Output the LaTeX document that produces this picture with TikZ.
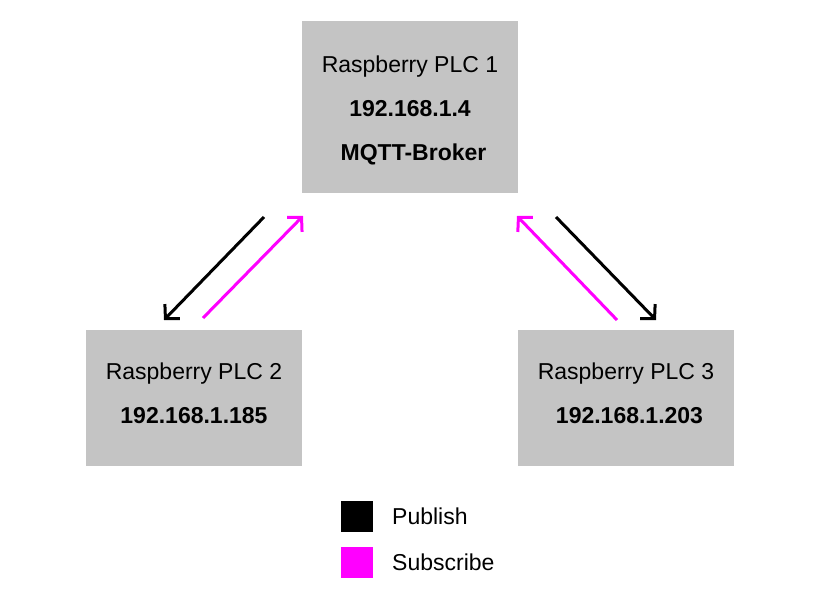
\documentclass[tikz,border=0pt]{standalone}
\usepackage{fontspec}
\setmainfont{Liberation Sans}
\usetikzlibrary{arrows.meta, positioning}
\definecolor{plcgray}{RGB}{196,196,196}
\definecolor{submagenta}{RGB}{255,0,255}

\tikzset{
  plcbox/.style={rectangle, fill=plcgray, minimum width=216pt, inner sep=0pt},
  plclabel/.style={align=center, inner sep=0pt, font=\fontsize{23}{44}\selectfont},
  pubarrow/.style={draw=black, line width=3pt, -{Straight Barb[length=10pt,width=21pt]}},
  subarrow/.style={pubarrow, draw=submagenta},
  legendkey/.style={rectangle, minimum width=32pt, minimum height=31pt, inner sep=0pt},
  legendtext/.style={anchor=west, inner sep=0pt, font=\fontsize{23}{26}\selectfont}
}

\begin{document}
\begin{tikzpicture}[x=1pt, y=-1pt]
\useasboundingbox (0,0) rectangle (813,599);

% PLC boxes
\node[plcbox, minimum height=172pt] (plc1) at (410,107) {};
\node[plcbox, minimum height=136pt] (plc2) at (194,398) {};
\node[plcbox, minimum height=136pt] (plc3) at (626,398) {};

\node[plclabel] (plc1text) at (410,110) {
    Raspberry PLC 1\\
    \textbf{192.168.1.4}\\
    \hspace*{7pt}\textbf{MQTT-Broker}
};
\node[plclabel] (plc2text) at (194,393) {
    Raspberry PLC 2\\
    \textbf{192.168.1.185}
};
\node[plclabel] (plc3text) at (626,393) {
    Raspberry PLC 3\\
    \hspace*{7pt}\textbf{192.168.1.203}
};

% Arrow ends
\coordinate (pub2a) at (264,217);
\coordinate (pub2b) at (164,320);
\coordinate (sub2a) at (203,318);
\coordinate (sub2b) at (303,216);
\coordinate (sub3a) at (617,320);
\coordinate (sub3b) at (517,216);
\coordinate (pub3a) at (556,217);
\coordinate (pub3b) at (656,320);

\draw[pubarrow] (pub2a) -- (pub2b);
\draw[subarrow] (sub2a) -- (sub2b);
\draw[subarrow] (sub3a) -- (sub3b);
\draw[pubarrow] (pub3a) -- (pub3b);

% Legend
\node[legendkey, fill=black] (pubkey) at (357,516) {};
\node[legendkey, fill=submagenta] (subkey) at (357,562) {};
\node[legendtext] (pubtext) at (392,516) {Publish};
\node[legendtext] (subtext) at (392,562) {Subscribe};
\end{tikzpicture}
\end{document}
